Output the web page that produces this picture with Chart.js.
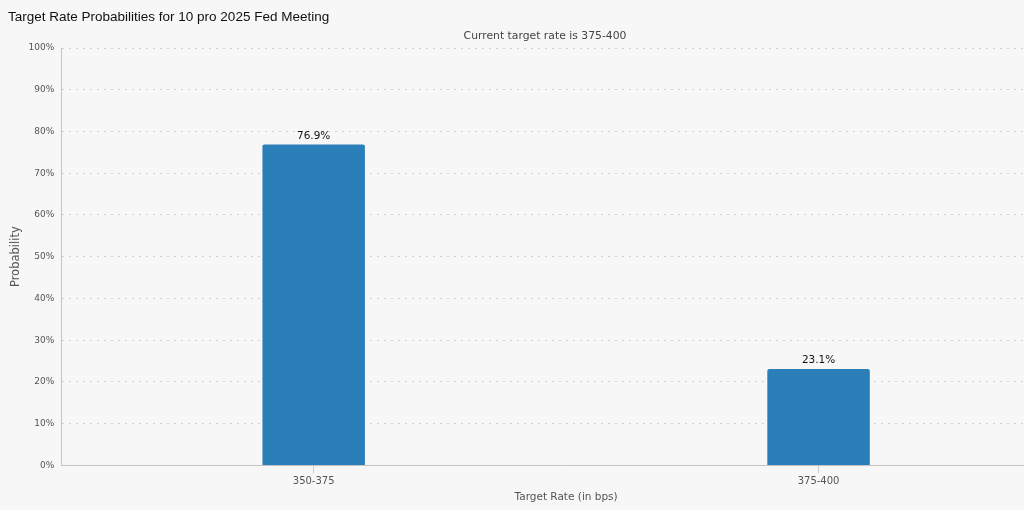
<!DOCTYPE html>
<html>
<head>
<meta charset="utf-8">
<script src="https://cdn.jsdelivr.net/npm/chart.js@4.4.1/dist/chart.umd.min.js"></script>
<style>
  html, body { margin: 0; padding: 0; background: #f7f7f7; overflow: hidden; }
  #wrap { position: relative; width: 1024px; height: 510px; overflow: hidden; }
  #title { position: absolute; left: 8px; top: 9px; font: 13.5px 'Liberation Sans', Arial, sans-serif; color: #111; }
  #subtitle { position: absolute; left: 0; width: 1090px; top: 29px; text-align: center; font: 10.8px 'DejaVu Sans', sans-serif; color: #444; }
  canvas { position: absolute; left: 0; top: 0; }
</style>
</head>
<body>
<div id="wrap">
  <canvas id="rateChart" width="1071" height="510"></canvas>
  <div id="title">Target Rate Probabilities for 10 pro 2025 Fed Meeting</div>
  <div id="subtitle">Current target rate is 375-400</div>
</div>
<script>
// Target rate buckets (bps) and their probabilities (%)
const rateBuckets = ['350-375', '375-400'];
const probabilities = [76.9, 23.1];
const yTicks = [0, 10, 20, 30, 40, 50, 60, 70, 80, 90, 100];

const textFont = "'DejaVu Sans', sans-serif";
const gray = '#555555';

// draws the value label on top of each bar
const barLabels = {
  id: 'barLabels',
  afterDatasetsDraw(chart) {
    const ctx = chart.ctx;
    const meta = chart.getDatasetMeta(0);
    ctx.save();
    ctx.font = '10.5px ' + textFont;
    ctx.fillStyle = '#111111';
    ctx.textAlign = 'center';
    ctx.textBaseline = 'bottom';
    meta.data.forEach((bar, i) => {
      ctx.fillText(probabilities[i].toFixed(1) + '%', bar.x, bar.y - 3);
    });
    ctx.restore();
  }
};

new Chart(document.getElementById('rateChart'), {
  type: 'bar',
  data: {
    labels: rateBuckets,
    datasets: [{
      label: 'Probability',
      data: probabilities,
      backgroundColor: '#2a7fb8',
      borderRadius: 2,
      borderSkipped: 'bottom',
      categoryPercentage: 1,
      barPercentage: 0.203
    }]
  },
  options: {
    responsive: false,
    animation: false,
    layout: { padding: { left: 0, top: 48, right: 0, bottom: 6 } },
    plugins: {
      legend: { display: false },
      tooltip: { enabled: false }
    },
    scales: {
      y: {
        min: 0,
        max: 100,
        afterBuildTicks: (scale) => { scale.ticks = yTicks.map(v => ({ value: v })); },
        ticks: { callback: v => v + '%', color: gray, padding: 7, font: { family: textFont, size: 9 } },
        grid: { color: '#cfcfcf', drawTicks: false },
        border: { color: '#c4c4c4', dash: [2, 5] },
        title: { display: true, text: 'Probability', color: gray, padding: { top: 10, bottom: 0 }, font: { family: textFont, size: 11.5, lineHeight: 1 } }
      },
      x: {
        ticks: { color: gray, padding: 2, font: { family: textFont, size: 10 } },
        grid: { offset: false, drawOnChartArea: false, drawTicks: true, tickLength: 8, tickColor: '#cccccc' },
        border: { color: '#c4c4c4' },
        title: { display: true, text: 'Target Rate (in bps)', color: gray, padding: { top: 2, bottom: 0 }, font: { family: textFont, size: 10.5 } }
      }
    }
  },
  plugins: [barLabels]
});
</script>
</body>
</html>
